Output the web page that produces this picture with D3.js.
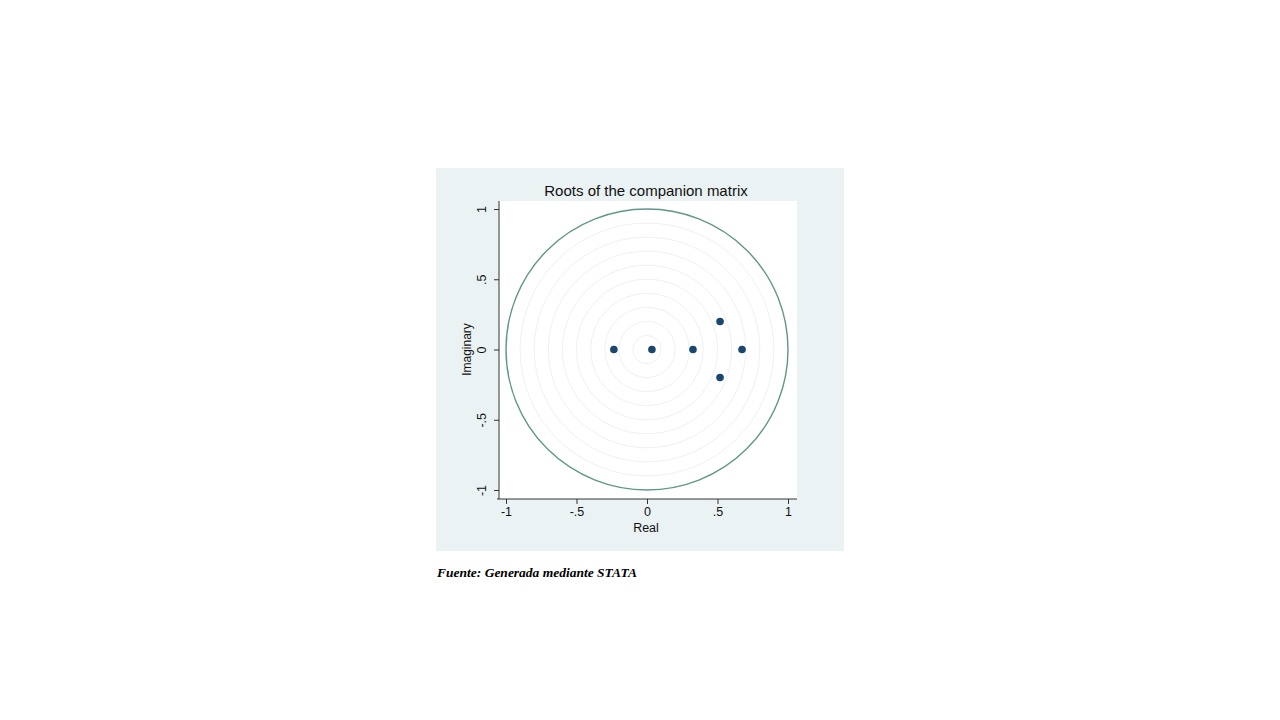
<!DOCTYPE html>
<html><head><meta charset="utf-8">
<script src="https://cdn.jsdelivr.net/npm/d3@7"></script>
<style>body{margin:0;background:#fff;}svg{display:block;}</style>
</head><body>
<script>
const title = "Roots of the companion matrix";
const realParts = [-0.235, 0.035, 0.326, 0.674, 0.518, 0.518];
const imagParts = [0, 0, 0, 0, 0.199, -0.199];
const tickValues = [-1, -0.5, 0, 0.5, 1];
const tickLabels = ["-1", "-.5", "0", ".5", "1"];
const gridRadii = [0.1, 0.2, 0.3, 0.4, 0.5, 0.6, 0.7, 0.8, 0.9];
const unitRadius = [1];
const caption = "Fuente: Generada mediante STATA";

const svg = d3.select("body").append("svg").attr("width", 1280).attr("height", 720);
svg.append("rect").attr("x", 436).attr("y", 168).attr("width", 408).attr("height", 383).attr("fill", "#eaf2f3");
svg.append("rect").attr("x", 499).attr("y", 201).attr("width", 298).attr("height", 298).attr("fill", "#fff");

const x = d3.scaleLinear().domain([-1, 1]).range([506, 788]);
const y = d3.scaleLinear().domain([-1, 1]).range([490, 209]);
const lab = d3.scaleOrdinal().domain(tickValues).range(tickLabels);

svg.append("g").selectAll("ellipse").data(gridRadii).join("ellipse")
  .attr("cx", x(0)).attr("cy", y(0))
  .attr("rx", d => x(d) - x(0)).attr("ry", d => y(0) - y(d))
  .attr("fill", "none").attr("stroke", "#edf2f3").attr("stroke-width", 1);
svg.append("g").selectAll("ellipse").data(unitRadius).join("ellipse")
  .attr("cx", x(0)).attr("cy", y(0))
  .attr("rx", d => x(d) - x(0)).attr("ry", d => y(0) - y(d))
  .attr("fill", "none").attr("stroke", "#5f978a").attr("stroke-width", 1.4);

const xAxis = svg.append("g").attr("transform", "translate(0,499)")
  .call(d3.axisBottom(x).tickValues(tickValues).tickFormat(lab).tickSize(5).tickPadding(3));
xAxis.select(".domain").attr("d", "M497,0H797").attr("stroke", "#333");
xAxis.selectAll("text").attr("font-family", "Liberation Sans, Arial").attr("font-size", 12.5).attr("fill", "#111");
xAxis.selectAll("line").attr("stroke", "#333");

const yAxis = svg.append("g").attr("transform", "translate(499,0)")
  .call(d3.axisLeft(y).tickValues(tickValues).tickFormat(lab).tickSize(5).tickPadding(3));
yAxis.select(".domain").attr("d", "M0,201V499").attr("stroke", "#333");
yAxis.selectAll("line").attr("stroke", "#333");
yAxis.selectAll("text")
  .attr("font-family", "Liberation Sans, Arial").attr("font-size", 12.5).attr("fill", "#111")
  .attr("x", null).attr("dy", null).attr("text-anchor", "middle")
  .attr("transform", "translate(-13,0) rotate(-90)")
  .attr("dominant-baseline", "auto");

svg.append("text").attr("x", 646).attr("y", 532).attr("text-anchor", "middle")
  .attr("font-family", "Liberation Sans, Arial").attr("font-size", 12.5).attr("fill", "#111").text("Real");
svg.append("text").attr("transform", `translate(471,${y(0)}) rotate(-90)`).attr("text-anchor", "middle")
  .attr("font-family", "Liberation Sans, Arial").attr("font-size", 12).attr("fill", "#111").text("Imaginary");
svg.append("text").attr("x", 646).attr("y", 196).attr("text-anchor", "middle")
  .attr("font-family", "Liberation Sans, Arial").attr("font-size", 15).attr("fill", "#111").text(title);

svg.append("g").selectAll("circle").data(realParts).join("circle")
  .attr("cx", d => x(d)).attr("cy", (d, i) => y(imagParts[i])).attr("r", 3.8).attr("fill", "#1a476f");

svg.append("text").attr("x", 437).attr("y", 577)
  .attr("font-family", "Liberation Serif, Times New Roman").attr("font-style", "italic").attr("font-weight", "bold")
  .attr("font-size", 13.5).attr("fill", "#000").text(caption);
</script>
</body></html>
